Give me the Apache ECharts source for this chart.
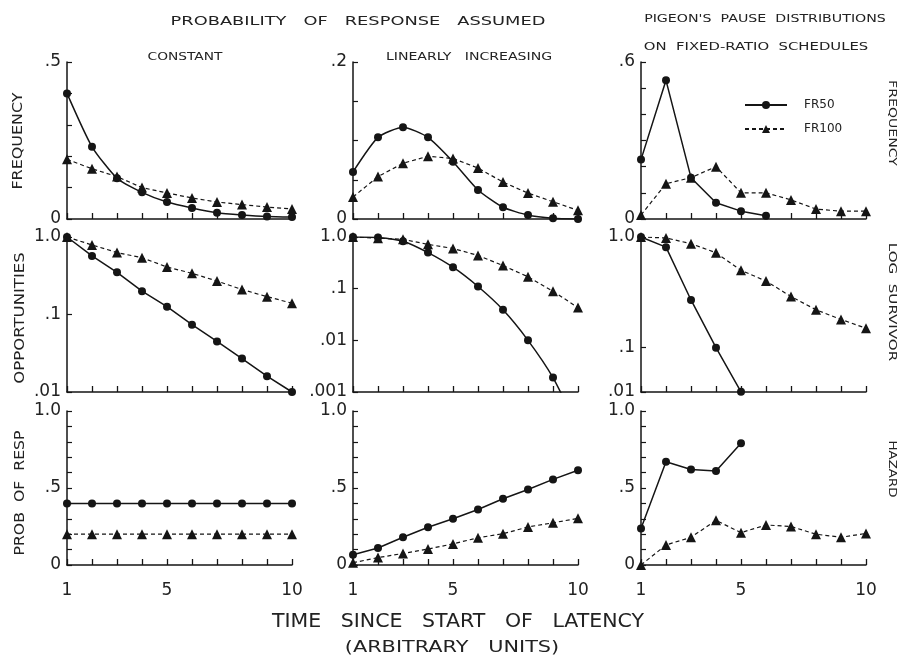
<!DOCTYPE html>
<html>
<head>
<meta charset="utf-8">
<title>Latency distributions</title>
<script src="https://cdn.jsdelivr.net/npm/echarts@6/dist/echarts.min.js"></script>
<style>
  html, body { margin: 0; padding: 0; background: #fff; }
  #chart { width: 900px; height: 662px; }
</style>
</head>
<body>
<div id="chart"></div>
<script>
const times = [1, 2, 3, 4, 5, 6, 7, 8, 9, 10];
const xTickLabels = [1, 5, 10];

// row 1: frequency
const constFreqHigh = [0.40, 0.23, 0.13, 0.085, 0.054, 0.035, 0.02, 0.013, 0.008, 0.006];
const constFreqLow = [0.19, 0.16, 0.135, 0.10, 0.083, 0.067, 0.054, 0.046, 0.038, 0.032];
const linFreqHigh = [0.060, 0.104, 0.117, 0.104, 0.073, 0.037, 0.015, 0.005, 0.001, 0.0];
const linFreqLow = [0.028, 0.054, 0.071, 0.080, 0.077, 0.065, 0.047, 0.033, 0.022, 0.011];
const fr50Freq = [0.227, 0.53, 0.158, 0.062, 0.03, 0.012];
const fr100Freq = [0.015, 0.135, 0.158, 0.20, 0.10, 0.10, 0.073, 0.038, 0.03, 0.03];

// row 2: opportunities / log survivor
const constSurvHigh = [1.0, 0.57, 0.35, 0.20, 0.126, 0.074, 0.045, 0.027, 0.016, 0.010];
const constSurvLow = [1.0, 0.79, 0.63, 0.54, 0.41, 0.34, 0.27, 0.21, 0.17, 0.14];
const linSurvHigh = [1.0, 0.98, 0.83, 0.50, 0.26, 0.11, 0.039, 0.010, 0.0019, 0.0002];
const linSurvLow = [1.0, 0.95, 0.90, 0.72, 0.60, 0.44, 0.28, 0.17, 0.089, 0.043];
const fr50Surv = [1.0, 0.81, 0.27, 0.10, 0.04];
const fr100Surv = [1.0, 0.98, 0.87, 0.72, 0.50, 0.40, 0.29, 0.22, 0.18, 0.15];

// row 3: probability of response / hazard
const constHazHigh = [0.4, 0.4, 0.4, 0.4, 0.4, 0.4, 0.4, 0.4, 0.4, 0.4];
const constHazLow = [0.2, 0.2, 0.2, 0.2, 0.2, 0.2, 0.2, 0.2, 0.2, 0.2];
const linHazHigh = [0.066, 0.11, 0.18, 0.245, 0.30, 0.36, 0.43, 0.49, 0.556, 0.615];
const linHazLow = [0.015, 0.048, 0.075, 0.104, 0.137, 0.177, 0.203, 0.247, 0.274, 0.303];
const fr50Haz = [0.237, 0.67, 0.62, 0.61, 0.79];
const fr100Haz = [0.0, 0.13, 0.18, 0.29, 0.21, 0.26, 0.25, 0.20, 0.18, 0.205];

// y tick labels
const freqMax = [0.5, 0.2, 0.6];
const freqMaxLabels = ['.5', '.2', '.6'];
const freqTickStep = [0.1, 0.05, 0.1];
const survTicks = [[-2, -1, 0], [-3, -2, -1, 0], [-1.4, -1, 0]];
const survTickLabels = [['.01', '.1', '1.0'], ['.001', '.01', '.1', '1.0'], ['.01', '.1', '1.0']];
const hazTicks = [0, 0.5, 1];
const hazTickLabels = ['0', '.5', '1.0'];

const INK = '#151515';
const FONT = 'DejaVu Sans';
const colLeft = [67, 353, 641];
const rowTop = [62, 237, 411];
const rowHeight = [157, 155, 154];

const grids = [];
const xAxes = [];
const yAxes = [];
const series = [];

function lookup(values, labels) {
  return function (v) {
    for (let i = 0; i < values.length; i++) {
      if (Math.abs(values[i] - v) < 1e-6) return labels[i];
    }
    return '';
  };
}

function addPanel(row, col, yAxis, high, low, names, smooth) {
  const idx = grids.length;
  grids.push({ left: colLeft[col], top: rowTop[row], width: 225, height: rowHeight[row] });
  xAxes.push({
    type: 'value', gridIndex: idx, min: 1, max: 10, interval: 1,
    axisLine: { onZero: false, lineStyle: { color: INK, width: 1.5 } },
    axisTick: { show: true, inside: true, length: 6, lineStyle: { color: INK, width: 1.3 } },
    axisLabel: row === 2
      ? { customValues: xTickLabels, color: '#222', fontFamily: FONT, fontSize: 17, margin: 17 }
      : { show: false },
    splitLine: { show: false }
  });
  yAxes.push(Object.assign({
    type: 'value', gridIndex: idx,
    axisLine: { show: true, lineStyle: { color: INK, width: 1.5 } },
    splitLine: { show: false }
  }, yAxis));
  const tx = row === 1 ? (v) => Math.log10(v) : (v) => v;
  series.push({
    name: names[0], type: 'line', xAxisIndex: idx, yAxisIndex: idx,
    data: high.map((v, i) => [times[i], tx(v)]),
    symbol: 'circle', symbolSize: 8, smooth: smooth ? 0.2 : false,
    itemStyle: { color: INK },
    lineStyle: { color: INK, width: 1.5 }
  });
  series.push({
    name: names[1], type: 'line', xAxisIndex: idx, yAxisIndex: idx,
    data: low.map((v, i) => [times[i], tx(v)]),
    symbol: 'triangle', symbolSize: 10,
    itemStyle: { color: INK },
    lineStyle: { color: INK, width: 1.2, type: [4, 3] }
  });
}

function labelStyle(values, labels) {
  return {
    customValues: values, formatter: lookup(values, labels),
    color: '#222', fontFamily: FONT, fontSize: 17, margin: 6
  };
}

function yTick(custom) {
  const t = { show: true, inside: true, length: 5, lineStyle: { color: INK, width: 1.2 } };
  if (custom) t.customValues = custom;
  return t;
}

function freqAxis(col) {
  return {
    min: 0, max: freqMax[col], interval: freqTickStep[col],
    axisTick: yTick(),
    axisLabel: labelStyle([0, freqMax[col]], ['0', freqMaxLabels[col]])
  };
}

function survAxis(col) {
  const t = survTicks[col];
  return {
    min: t[0], max: 0,
    axisTick: yTick(t),
    axisLabel: labelStyle(t, survTickLabels[col])
  };
}

function hazAxis() {
  return {
    min: 0, max: 1, interval: 0.1,
    axisTick: yTick(),
    axisLabel: labelStyle(hazTicks, hazTickLabels)
  };
}

addPanel(0, 0, freqAxis(0), constFreqHigh, constFreqLow, ['p.4', 'p.2'], true);
addPanel(0, 1, freqAxis(1), linFreqHigh, linFreqLow, ['lin.06', 'lin.03'], true);
addPanel(0, 2, freqAxis(2), fr50Freq, fr100Freq, ['FR50', 'FR100'], false);
addPanel(1, 0, survAxis(0), constSurvHigh, constSurvLow, ['p.4', 'p.2'], false);
addPanel(1, 1, survAxis(1), linSurvHigh, linSurvLow, ['lin.06', 'lin.03'], true);
addPanel(1, 2, survAxis(2), fr50Surv, fr100Surv, ['FR50', 'FR100'], false);
addPanel(2, 0, hazAxis(), constHazHigh, constHazLow, ['p.4', 'p.2'], false);
addPanel(2, 1, hazAxis(), linHazHigh, linHazLow, ['lin.06', 'lin.03'], false);
addPanel(2, 2, hazAxis(), fr50Haz, fr100Haz, ['FR50', 'FR100'], false);

function txt(text, x, y, size, opts) {
  return Object.assign({
    type: 'text', x: x, y: y, silent: true,
    style: {
      text: text, fill: '#222', font: size + 'px "' + FONT + '"',
      textAlign: 'center', textVerticalAlign: 'middle'
    }
  }, opts || {});
}

const UP = Math.PI / 2;
const graphics = [
  txt('PROBABILITY   OF   RESPONSE   ASSUMED', 358, 22, 13, { scaleX: 1.37 }),
  txt('CONSTANT', 185, 57, 11, { scaleX: 1.25 }),
  txt('LINEARLY   INCREASING', 469, 57, 11, { scaleX: 1.28 }),
  txt("PIGEON'S  PAUSE  DISTRIBUTIONS", 765, 19, 11, { scaleX: 1.29 }),
  txt('ON  FIXED-RATIO  SCHEDULES', 756, 47, 11, { scaleX: 1.35 }),
  txt('FREQUENCY', 18, 141, 14, { rotation: UP, scaleX: 1.14 }),
  txt('OPPORTUNITIES', 20, 318, 14, { rotation: UP, scaleX: 1.18 }),
  txt('PROB  OF  RESP', 20, 493, 14, { rotation: UP, scaleX: 1.12 }),
  txt('FREQUENCY', 892, 123, 11, { rotation: -UP, scaleX: 1.28 }),
  txt('LOG  SURVIVOR', 892, 302, 11, { rotation: -UP, scaleX: 1.37 }),
  txt('HAZARD', 892, 469, 10, { rotation: -UP, scaleX: 1.33 }),
  txt('TIME   SINCE   START   OF   LATENCY', 458, 622, 19, { scaleX: 1.08 }),
  txt('(ARBITRARY   UNITS)', 452, 648, 16, { scaleX: 1.3 })
];

const chart = echarts.init(document.getElementById('chart'), null, { renderer: 'canvas' });
chart.setOption({
  animation: false,
  backgroundColor: '#fff',
  grid: grids,
  xAxis: xAxes,
  yAxis: yAxes,
  series: series,
  legend: {
    data: ['FR50', 'FR100'],
    orient: 'vertical',
    left: 739, top: 94,
    itemWidth: 42, itemHeight: 10, itemGap: 12,
    textStyle: { color: '#222', fontFamily: FONT, fontSize: 12, padding: [0, 0, 0, 12] },
    selectedMode: false
  },
  graphic: graphics
});
</script>
</body>
</html>
